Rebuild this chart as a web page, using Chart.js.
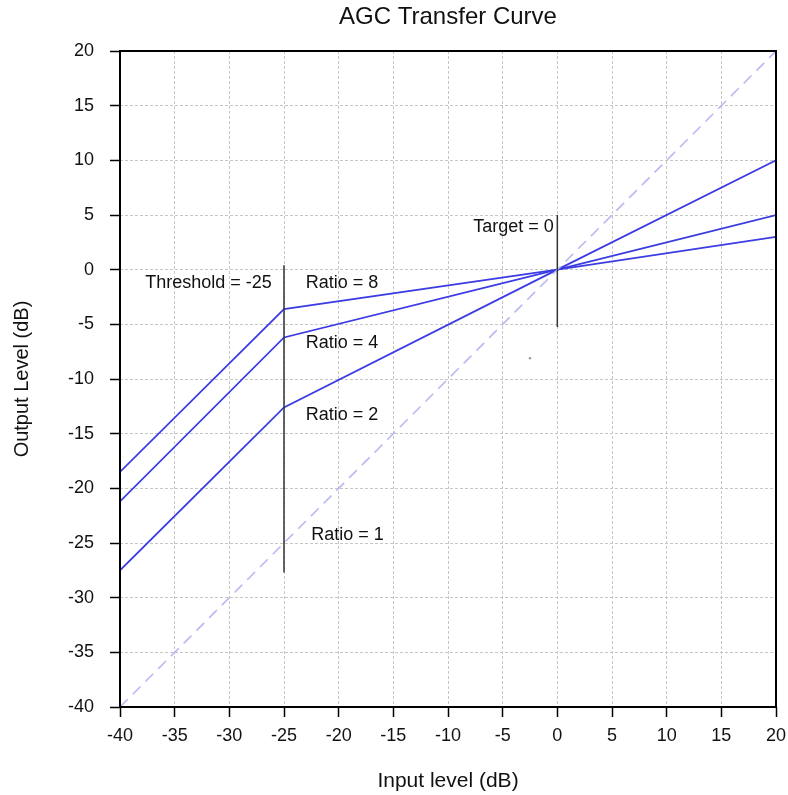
<!DOCTYPE html>
<html>
<head>
<meta charset="utf-8">
<script src="https://cdn.jsdelivr.net/npm/chart.js@4/dist/chart.umd.min.js"></script>
<style>
  html, body { margin: 0; padding: 0; background: #fff; }
  #wrap { width: 788px; height: 795px; position: relative; }
</style>
</head>
<body>
<div id="wrap"><canvas id="agc"></canvas></div>
<script>
// values
const inputLevels = [-40, -25, 0, 20];
const ratio2Out = [-27.5, -12.6, 0, 10];
const ratio4Out = [-21.2, -6.2, 0, 5];
const ratio8Out = [-18.5, -3.6, 0, 3];
const unityIn = [-40, 20];
const unityOut = [-40, 20];
const thresholdX = [-25, -25];
const thresholdY = [0.4, -27.7];
const targetX = [0, 0];
const targetY = [5, -5.25];
const strayX = [-2.5];
const strayY = [-8.1];

const chartTitle = 'AGC Transfer Curve';
const noteTexts = ['Threshold = -25', 'Ratio = 8', 'Ratio = 4', 'Ratio = 2', 'Ratio = 1', 'Target = 0'];
const noteX = [-31.9, -19.7, -19.7, -19.7, -19.2, -4.0];
const noteY = [-1.2, -1.2, -6.7, -13.3, -24.3, 3.9];

const FONT = '"Liberation Sans", Arial, Helvetica, sans-serif';

const pts = (xs, ys) => xs.map((x, i) => ({ x: x, y: ys[i] }));

const BLUE = 'rgb(60, 60, 228)';

// title centred over the plot, notes, and the box round the plot
const frame = {
  id: 'frame',
  afterDraw(chart) {
    const { ctx, chartArea: a, scales } = chart;
    ctx.save();
    ctx.fillStyle = '#111';
    ctx.textAlign = 'center';
    ctx.textBaseline = 'middle';
    ctx.font = '24px ' + FONT;
    ctx.fillText(chartTitle, (a.left + a.right) / 2, 17);
    ctx.font = '18px ' + FONT;
    noteTexts.forEach((t, i) => {
      ctx.fillText(t, scales.x.getPixelForValue(noteX[i]), scales.y.getPixelForValue(noteY[i]));
    });
    ctx.strokeStyle = '#000';
    ctx.lineWidth = 2;
    ctx.strokeRect(a.left, a.top, a.right - a.left, a.bottom - a.top);
    ctx.restore();
  }
};

new Chart(document.getElementById('agc'), {
  type: 'line',
  data: {
    datasets: [
      { data: pts(thresholdX, thresholdY), borderColor: '#333', borderWidth: 1.5 },
      { data: pts(targetX, targetY), borderColor: '#333', borderWidth: 1.5 },
      { data: pts(unityIn, unityOut), borderColor: 'rgb(185, 185, 245)', borderWidth: 1.6, borderDash: [11, 7] },
      { data: pts(inputLevels, ratio2Out), borderColor: BLUE, borderWidth: 1.8 },
      { data: pts(inputLevels, ratio4Out), borderColor: BLUE, borderWidth: 1.8 },
      { data: pts(inputLevels, ratio8Out), borderColor: BLUE, borderWidth: 1.8 },
      { data: pts(strayX, strayY), showLine: false, pointRadius: 1.2, pointBackgroundColor: '#999', pointBorderWidth: 0 }
    ]
  },
  options: {
    responsive: true,
    maintainAspectRatio: false,
    animation: false,
    layout: { padding: { left: 0, right: 12, top: 51, bottom: 0 } },
    elements: { point: { radius: 0 }, line: { tension: 0 } },
    plugins: {
      legend: { display: false },
      tooltip: { enabled: false },
      title: { display: false }
    },
    scales: {
      x: {
        type: 'linear',
        min: -40,
        max: 20,
        afterFit: s => { s.height = 88; s.paddingRight = 12; s.paddingLeft = 0; },
        ticks: { stepSize: 5, color: '#111', padding: 8, font: { family: FONT, size: 18 }, maxRotation: 0 },
        grid: { color: '#c6c6c6', lineWidth: 1, tickColor: '#000', tickWidth: 1.5, tickLength: 10 },
        border: { display: false, dash: [3, 2] },
        title: {
          display: true,
          text: 'Input level (dB)',
          color: '#111',
          font: { family: FONT, size: 21 },
          padding: { top: 0, bottom: 1 }
        }
      },
      y: {
        min: -40,
        max: 20,
        afterFit: s => { s.width = 120; s.paddingTop = 0; s.paddingBottom = 0; },
        ticks: { stepSize: 5, color: '#111', padding: 16, font: { family: FONT, size: 18 } },
        grid: { color: '#c6c6c6', lineWidth: 1, tickColor: '#000', tickWidth: 1.5, tickLength: 10 },
        border: { display: false, dash: [3, 2] },
        title: {
          display: true,
          text: 'Output Level (dB)',
          color: '#111',
          font: { family: FONT, size: 20 },
          padding: { top: 10, bottom: 0 }
        }
      }
    }
  },
  plugins: [frame]
});
</script>
</body>
</html>
